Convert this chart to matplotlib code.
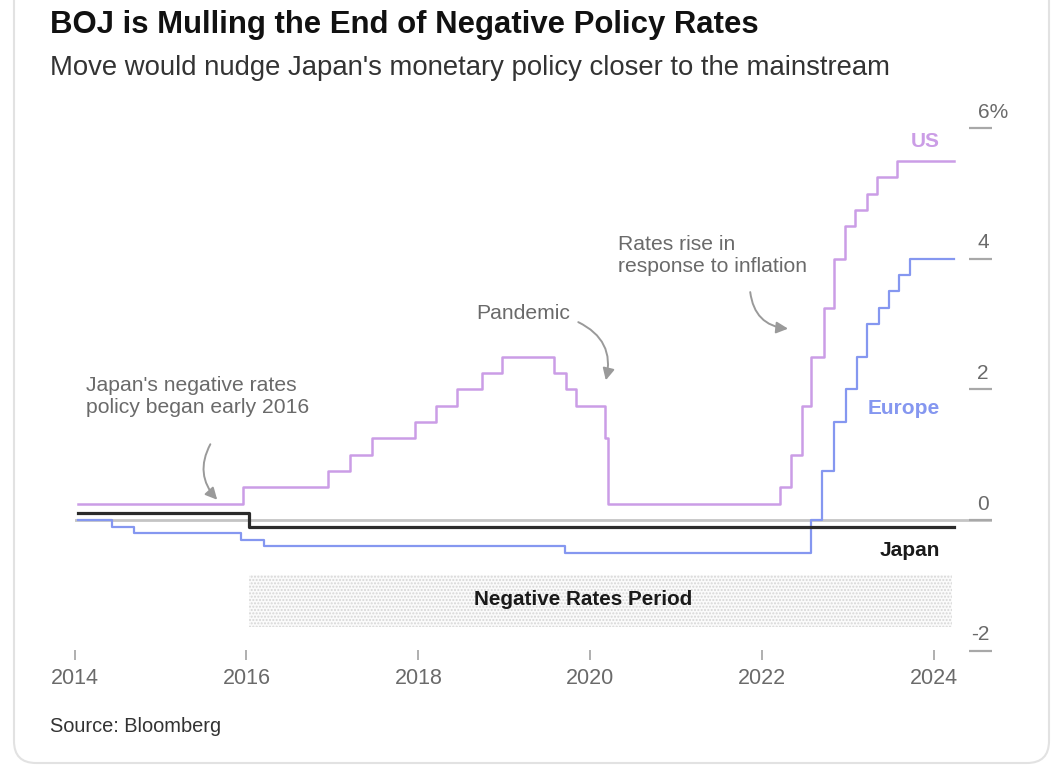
import matplotlib
matplotlib.use("Agg")
import matplotlib.pyplot as plt
from matplotlib.patches import FancyBboxPatch, Rectangle
from matplotlib.transforms import IdentityTransform

plt.rcParams['font.family'] = ['Liberation Sans', 'DejaVu Sans']
plt.rcParams['hatch.linewidth'] = 1.0

# Policy rates (%), step series: date as decimal year, rate effective from that date
us_dates = [2014.04, 2015.96, 2016.95, 2017.21, 2017.46, 2017.96, 2018.21, 2018.45,
            2018.74, 2018.97, 2019.58, 2019.72, 2019.83, 2020.17, 2020.21, 2022.21,
            2022.34, 2022.46, 2022.57, 2022.72, 2022.84, 2022.96, 2023.08, 2023.22,
            2023.34, 2023.57, 2024.23]
us_rates = [0.25, 0.50, 0.75, 1.00, 1.25, 1.50, 1.75, 2.00,
            2.25, 2.50, 2.25, 2.00, 1.75, 1.25, 0.25, 0.50,
            1.00, 1.75, 2.50, 3.25, 4.00, 4.50, 4.75, 5.00,
            5.25, 5.50, 5.50]

europe_dates = [2014.04, 2014.44, 2014.69, 2015.94, 2016.21, 2019.71, 2022.57, 2022.70,
                2022.84, 2022.97, 2023.10, 2023.22, 2023.36, 2023.47, 2023.59, 2023.72,
                2024.23]
europe_rates = [0.00, -0.10, -0.20, -0.30, -0.40, -0.50, 0.00, 0.75,
                1.50, 2.00, 2.50, 3.00, 3.25, 3.50, 3.75, 4.00,
                4.00]

japan_dates = [2014.04, 2016.03, 2024.23]
japan_rates = [0.10, -0.10, -0.10]

year_ticks = [2014, 2016, 2018, 2020, 2022, 2024]
year_labels = ['2014', '2016', '2018', '2020', '2022', '2024']
rate_ticks = [-2, 0, 2, 4, 6]
rate_labels = ['-2', '0', '2', '4', '6%']

negative_period = (2016.03, 2024.21)

US_C = '#CB9DE6'
EU_C = '#8597F0'
JP_C = '#2b2b2b'
GREY_TXT = '#6a6a6a'

W, H = 1051, 765
fig = plt.figure(figsize=(W / 100, H / 100), dpi=100)
fig.patch.set_facecolor('white')

# card outline
card = FancyBboxPatch((14, 2), 1035, 820, boxstyle="round,pad=0,rounding_size=22",
                      transform=IdentityTransform(), facecolor='none',
                      edgecolor='#e2e2e2', linewidth=1.5)
fig.patches.append(card)

# plot area in pixels: left 74.5, right 992, top 100, bottom 660
px_left, px_right, px_top, px_bot = 74.5, 992, 100, 660
ax = fig.add_axes([px_left / W, 1 - px_bot / H, (px_right - px_left) / W, (px_bot - px_top) / H])
px_per_year = 85.97
px_per_pct = 65.3
ax.set_xlim(2014, 2014 + (px_right - px_left) / px_per_year)
ax.set_ylim((520 - px_bot) / px_per_pct, (520 - px_top) / px_per_pct)
ax.set_facecolor('none')
for s in ax.spines.values():
    s.set_visible(False)

# negative rates period band
band = Rectangle((negative_period[0], -1.64), negative_period[1] - negative_period[0], 0.80,
                 facecolor='#fbfbfb', edgecolor='#d6d6d6', hatch='.....', linewidth=0, zorder=0)
ax.add_patch(band)
ax.text(2019.92, -1.225, 'Negative Rates Period', ha='center', va='center',
        fontsize=14.9, fontweight='bold', color='#1a1a1a')

# zero line
ax.axhline(0, color='#c4c4c4', linewidth=2.0, zorder=1)

# series
ax.step(us_dates, us_rates, where='post', color=US_C, linewidth=1.8, zorder=3)
ax.step(europe_dates, europe_rates, where='post', color=EU_C, linewidth=1.6, zorder=3)
ax.step(japan_dates, japan_rates, where='post', color=JP_C, linewidth=2.3, zorder=4)

# series labels
ax.text(2024.07, 5.79, 'US', ha='right', va='center', fontsize=15, fontweight='bold', color=US_C)
ax.text(2024.07, 1.70, 'Europe', ha='right', va='center', fontsize=15, fontweight='bold', color=EU_C)
ax.text(2024.07, -0.46, 'Japan', ha='right', va='center', fontsize=15, fontweight='bold', color='#1a1a1a')

# x axis ticks
ax.set_xticks(year_ticks)
ax.set_xticklabels(year_labels)
ax.tick_params(axis='x', direction='in', length=7, width=1.1, color='#9a9a9a',
               labelsize=15.5, labelcolor=GREY_TXT, pad=6)

# right-side rate ticks, labels sit just above each tick mark
ax.yaxis.tick_right()
ax.set_yticks(rate_ticks)
ax.set_yticklabels([])
ax.tick_params(axis='y', direction='in', length=16.5, width=1.6, color='#a8a8a8')
digits_right = 2014 + (989 - px_left) / px_per_year
digits_left = 2014 + (978 - px_left) / px_per_year
for v, lab in zip(rate_ticks, rate_labels):
    y = v + 16 / px_per_pct
    if lab.endswith('%'):
        ax.text(digits_left, y, lab, ha='left', va='center', fontsize=15, color=GREY_TXT)
    else:
        ax.text(digits_right, y, lab, ha='right', va='center', fontsize=15, color=GREY_TXT)

# annotations
arrow_kw = dict(arrowstyle='-|>,head_length=0.7,head_width=0.35', color='#9a9a9a', lw=1.4,
                shrinkA=0, shrinkB=0)
ax.text(2014.134, 1.884, "Japan's negative rates\npolicy began early 2016", ha='left', va='center',
        fontsize=15.2, color=GREY_TXT, linespacing=1.2)
ax.annotate('', xy=(2015.66, 0.31), xytext=(2015.58, 1.16),
            arrowprops=dict(connectionstyle='arc3,rad=0.35', **arrow_kw))

ax.text(2018.67, 3.155, 'Pandemic', ha='left', va='center', fontsize=15.2, color=GREY_TXT)
ax.annotate('', xy=(2020.18, 2.14), xytext=(2019.86, 3.03),
            arrowprops=dict(connectionstyle='arc3,rad=-0.4', **arrow_kw))

ax.text(2020.32, 4.05, 'Rates rise in\nresponse to inflation', ha='left', va='center',
        fontsize=15.2, color=GREY_TXT, linespacing=1.2)
ax.annotate('', xy=(2022.30, 2.93), xytext=(2021.86, 3.49),
            arrowprops=dict(connectionstyle='arc3,rad=0.4', **arrow_kw))

# titles and source
fig.text(50 / W, 1 - 25 / H, 'BOJ is Mulling the End of Negative Policy Rates', ha='left', va='center',
         fontsize=22.4, fontweight='bold', color='#111111')
fig.text(50 / W, 1 - 68 / H, "Move would nudge Japan's monetary policy closer to the mainstream",
         ha='left', va='center', fontsize=19.8, color='#333333')
fig.text(50 / W, 1 - 727 / H, 'Source: Bloomberg', ha='left', va='center', fontsize=14.4, color='#333333')

fig.savefig('out.png', dpi=100)
